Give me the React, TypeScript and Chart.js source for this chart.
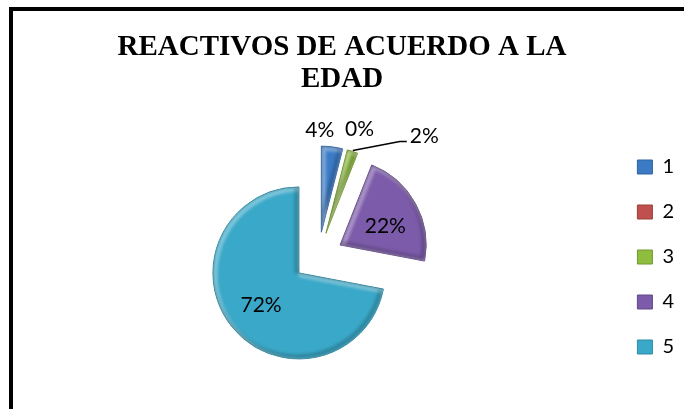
import React, { useEffect, useRef } from "react";
import { Chart, registerables } from "chart.js";

Chart.register(...registerables);

// ---- data ----
const TITLE_LINES = ["REACTIVOS DE ACUERDO A LA", "EDAD"];
const CATEGORIES = ["1", "2", "3", "4", "5"];
const PERCENTS = [4, 0, 2, 22, 72];
const COLORS = ["#3B7BC6", "#C0504D", "#8FBE3F", "#7C5BAA", "#3AA8C8"];
const BORDER_COLORS = ["#2F649F", "#9A3E3B", "#71982F", "#634888", "#2E8AA4"];

// ---- style / layout ----
const EXPLODE = 25;
const RADIUS = 86;
const LABEL_FONT = '21px Lato, "Open Sans", sans-serif';
const TITLE_FONT = 'bold 29px "Liberation Serif", "Times New Roman", serif';

type Placement =
  | { mode: "inside"; frac: number; rot: number }
  | { mode: "outside"; dist: number; align: CanvasTextAlign; dx: number; dy: number }
  | { mode: "leader"; elbow: [number, number]; end: [number, number]; text: [number, number] };

const LABEL_PLACEMENT: Placement[] = [
  { mode: "outside", dist: 17, align: "right", dx: 0, dy: 0 },
  { mode: "outside", dist: 17, align: "left", dx: -5, dy: -4 },
  { mode: "leader", elbow: [47, -9], end: [54, -9], text: [57, -14] },
  { mode: "inside", frac: 0.57, rot: 6 },
  { mode: "inside", frac: 0.58, rot: -1 },
];

const explodePlugin = {
  id: "explodeSlices",
  afterDatasetUpdate(_chart: any, args: any) {
    args.meta.data.forEach((arc: any) => {
      const mid = (arc.startAngle + arc.endAngle) / 2;
      arc.x += EXPLODE * Math.cos(mid);
      arc.y += EXPLODE * Math.sin(mid);
    });
  },
};

// soft bevel: light band on upper-left inner edges, shade on lower-right inner edges
const bevelPlugin = {
  id: "bevel",
  afterDatasetDraw(chart: any, args: any) {
    const ctx = chart.ctx as CanvasRenderingContext2D;
    args.meta.data.forEach((arc: any) => {
      const { x, y, startAngle, endAngle, outerRadius } = arc;
      if (endAngle - startAngle <= 0) return;
      const path = (dx: number, dy: number) => {
        ctx.beginPath();
        ctx.moveTo(x + dx, y + dy);
        ctx.arc(x + dx, y + dy, outerRadius, startAngle, endAngle);
        ctx.closePath();
      };
      ctx.save();
      path(0, 0);
      ctx.clip();
      ctx.filter = "blur(1.5px)";
      ctx.lineJoin = "round";
      ctx.lineWidth = 5;
      ctx.strokeStyle = "rgba(255,255,255,0.35)";
      path(2, 2);
      ctx.stroke();
      ctx.strokeStyle = "rgba(0,0,0,0.2)";
      path(-2, -2);
      ctx.stroke();
      ctx.restore();
    });
  },
};

const titlePlugin = {
  id: "excelTitle",
  afterDraw(chart: any) {
    const ctx = chart.ctx as CanvasRenderingContext2D;
    ctx.save();
    ctx.font = TITLE_FONT;
    ctx.fillStyle = "#000";
    ctx.textAlign = "center";
    ctx.textBaseline = "alphabetic";
    TITLE_LINES.forEach((t, i) => ctx.fillText(t, chart.width / 2, 55 + i * 31.7));
    ctx.restore();
  },
};

const labelPlugin = {
  id: "sliceLabels",
  afterDatasetsDraw(chart: any) {
    const ctx = chart.ctx as CanvasRenderingContext2D;
    const meta = chart.getDatasetMeta(0);
    ctx.save();
    ctx.font = LABEL_FONT;
    ctx.fillStyle = "#000";
    ctx.strokeStyle = "#000";
    ctx.textBaseline = "middle";
    meta.data.forEach((arc: any, i: number) => {
      const { x, y, startAngle, endAngle, outerRadius } = arc;
      const mid = (startAngle + endAngle) / 2;
      const c = Math.cos(mid);
      const s = Math.sin(mid);
      const text = `${PERCENTS[i]}%`;
      const p = LABEL_PLACEMENT[i];
      if (p.mode === "inside") {
        const a = mid + (p.rot * Math.PI) / 180;
        ctx.textAlign = "center";
        ctx.fillText(text, x + Math.cos(a) * outerRadius * p.frac, y + Math.sin(a) * outerRadius * p.frac);
      } else if (p.mode === "outside") {
        const r = outerRadius + p.dist;
        ctx.textAlign = p.align;
        ctx.fillText(text, x + c * r + p.dx, y + s * r + p.dy);
      } else {
        const ox = x + c * (outerRadius + 1);
        const oy = y + s * (outerRadius + 1);
        ctx.lineWidth = 1.5;
        ctx.beginPath();
        ctx.moveTo(ox, oy);
        ctx.lineTo(ox + p.elbow[0], oy + p.elbow[1]);
        ctx.lineTo(ox + p.end[0], oy + p.end[1]);
        ctx.stroke();
        ctx.textAlign = "left";
        ctx.fillText(text, ox + p.text[0], oy + p.text[1]);
      }
    });
    ctx.restore();
  },
};

export default function App() {
  const ref = useRef<HTMLCanvasElement>(null);

  useEffect(() => {
    const canvas = ref.current;
    if (!canvas) return;
    const chart = new Chart(canvas, {
      type: "pie",
      data: {
        labels: CATEGORIES,
        datasets: [
          {
            data: PERCENTS,
            backgroundColor: COLORS,
            borderColor: BORDER_COLORS,
            borderWidth: 1,
            radius: RADIUS,
          } as any,
        ],
      },
      options: {
        responsive: false,
        animation: false,
        devicePixelRatio: 1,
        radius: RADIUS,
        layout: { padding: { left: 24, right: 0, top: 105, bottom: 0 } },
        plugins: {
          title: { display: false },
          tooltip: { enabled: false },
          legend: {
            position: "right",
            align: "center",
            labels: {
              boxWidth: 15,
              boxHeight: 14,
              padding: 25,
              color: "#000",
              font: { family: 'Lato, "Open Sans", sans-serif', size: 20 },
            },
          },
        },
      } as any,
      plugins: [explodePlugin, bevelPlugin, titlePlugin, labelPlugin],
    });
    return () => chart.destroy();
  }, []);

  return (
    <div style={{ position: "absolute", left: 0, top: 0, width: 684, height: 409, background: "#fff" }}>
      <div
        style={{
          position: "absolute",
          left: 9,
          top: 7,
          width: 675,
          height: 402,
          boxSizing: "border-box",
          borderTop: "4px solid #000",
          borderLeft: "4px solid #000",
        }}
      />
      <canvas
        ref={ref}
        width={684}
        height={409}
        style={{ position: "absolute", left: 0, top: 0, width: 684, height: 409 }}
      />
    </div>
  );
}
